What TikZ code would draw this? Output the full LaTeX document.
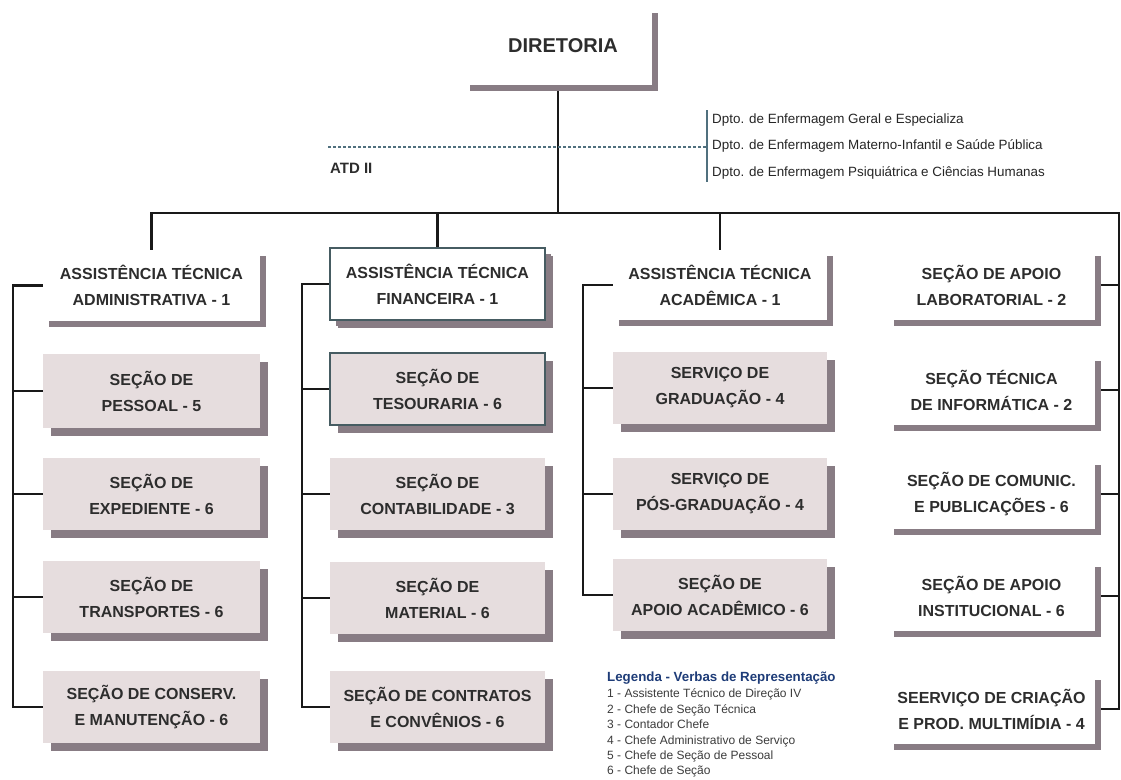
\documentclass[tikz,border=0pt]{standalone}
\usepackage{fontspec}
\setmainfont{Liberation Sans}
\usetikzlibrary{shadows,backgrounds}
\definecolor{shcol}{RGB}{136,124,132}
\definecolor{gfill}{RGB}{230,221,222}
\definecolor{txtc}{RGB}{45,45,45}
\definecolor{bordc}{RGB}{70,92,98}
\definecolor{dashc}{RGB}{80,112,126}
\definecolor{legblue}{RGB}{30,60,120}
\definecolor{legtxt}{RGB}{60,60,60}
\tikzset{
  boxtext/.style={font=\fontsize{16}{26}\selectfont\bfseries, text=txtc, align=center, inner sep=0pt},
  wbox/.style={boxtext, rectangle, fill=white,
    drop shadow={shadow xshift=6pt, shadow yshift=-6pt, fill=shcol, opacity=1}},
  gbox/.style={boxtext, rectangle, fill=gfill,
    drop shadow={shadow xshift=8pt, shadow yshift=-8pt, fill=shcol, opacity=1}},
  bordered/.style={draw=bordc, line width=1.5pt},
  c1/.style={minimum width=217pt},
  c2/.style={minimum width=215pt},
  c3/.style={minimum width=214pt},
  c4/.style={minimum width=207pt},
  h/.style={minimum height=#1},
  conn/.style={draw=black!90, line width=2.5pt},
  dptext/.style={font=\fontsize{13.4}{15}\selectfont, text=black!85, anchor=base west, inner sep=0pt},
  legitem/.style={font=\fontsize{12}{14}\selectfont, text=legtxt, anchor=base west, inner sep=0pt},
}
\begin{document}
\begin{tikzpicture}[x=1pt,y=-1pt]
\useasboundingbox (0,0) rectangle (1121,779);

% top
\node[wbox, minimum width=188pt, minimum height=78pt, font=\fontsize{20}{24}\selectfont\bfseries] (dir) at (558,46) {\hspace*{10pt}DIRETORIA};

% column 1
\node[wbox, c1, h=71pt] (ata) at (151.5,285.5) {ASSISTÊNCIA TÉCNICA\\ADMINISTRATIVA - 1};
\node[gbox, c1, h=74pt] (pes) at (151.5,391) {SEÇÃO DE\\PESSOAL - 5};
\node[gbox, c1, h=72pt] (exp) at (151.5,494) {SEÇÃO DE\\EXPEDIENTE - 6};
\node[gbox, c1, h=72pt] (tra) at (151.5,597) {SEÇÃO DE\\TRANSPORTES - 6};
\node[gbox, c1, h=72pt] (con) at (151.5,707) {SEÇÃO DE CONSERV.\\E MANUTENÇÃO - 6};

% column 2
\node[wbox, bordered, c2, h=72pt, drop shadow={shadow xshift=8pt, shadow yshift=-8pt, fill=shcol, opacity=1}] (atf) at (437.5,284) {ASSISTÊNCIA TÉCNICA\\FINANCEIRA - 1};
\node[gbox, bordered, c2, h=72pt] (tes) at (437.5,389) {SEÇÃO DE\\TESOURARIA - 6};
\node[gbox, c2, h=72pt] (cnt) at (437.5,494) {SEÇÃO DE\\CONTABILIDADE - 3};
\node[gbox, c2, h=72pt] (mat) at (437.5,598) {SEÇÃO DE\\MATERIAL - 6};
\node[gbox, c2, h=72pt] (ctr) at (437.5,707) {SEÇÃO DE CONTRATOS\\E CONVÊNIOS - 6};

% column 3
\node[wbox, c3, h=70pt] (atc) at (720,285) {ASSISTÊNCIA TÉCNICA\\ACADÊMICA - 1};
\node[gbox, c3, h=72pt] (gra) at (720,388) {SERVIÇO DE\\GRADUAÇÃO - 4};
\node[gbox, c3, h=72pt] (pos) at (720,494) {SERVIÇO DE\\PÓS-GRADUAÇÃO - 4};
\node[gbox, c3, h=72pt] (apa) at (720,595) {SEÇÃO DE\\APOIO ACADÊMICO - 6};

% column 4
\node[wbox, c4, h=70pt] (lab) at (991.5,285) {SEÇÃO DE APOIO\\LABORATORIAL - 2};
\node[wbox, c4, h=70pt] (inf) at (991.5,390) {SEÇÃO TÉCNICA\\DE INFORMÁTICA - 2};
\node[wbox, c4, h=70pt] (com) at (991.5,494) {SEÇÃO DE COMUNIC.\\E PUBLICAÇÕES - 6};
\node[wbox, c4, h=70pt] (ins) at (991.5,596) {SEÇÃO DE APOIO\\INSTITUCIONAL - 6};
\node[wbox, c4, h=70pt] (cri) at (991.5,709) {SEERVIÇO DE CRIAÇÃO\\E PROD. MULTIMÍDIA - 4};

% ATD and departments
\node[font=\fontsize{15}{18}\selectfont\bfseries, text=txtc, anchor=base west, inner sep=0pt] (atd) at (330,173.5) {ATD II};
\node[dptext] (d1) at (712,123) {Dpto. de Enfermagem Geral e Especializa};
\node[dptext] (d2) at (712,149) {Dpto. de Enfermagem Materno-Infantil e Saúde Pública};
\node[dptext] (d3) at (712,176) {Dpto. de Enfermagem Psiquiátrica e Ciências Humanas};
\coordinate (bt) at (707,110);
\coordinate (bb) at (707,182);
\coordinate (dl) at (328,147);

% legend
\node[font=\fontsize{13.3}{15}\selectfont\bfseries, text=legblue, anchor=base west, inner sep=0pt] (leg) at (607,681) {Legenda - Verbas de Representação};
\node[legitem] (l1) at (607,697) {1 - Assistente Técnico de Direção IV};
\node[legitem] (l2) at (607,713) {2 - Chefe de Seção Técnica};
\node[legitem] (l3) at (607,728) {3 - Contador Chefe};
\node[legitem] (l4) at (607,744) {4 - Chefe Administrativo de Serviço};
\node[legitem] (l5) at (607,759) {5 - Chefe de Seção de Pessoal};
\node[legitem] (l6) at (607,774) {6 - Chefe de Seção};

% connectors
\coordinate (bR) at (1119,213);
\coordinate (x1) at (13,0);
\coordinate (x2) at (302,0);
\coordinate (x3) at (583,0);
\begin{scope}[on background layer]
\fill[white] (0,0) rectangle (1121,779);
\draw[conn] (dir.south) -- (dir.south |- bR);
\draw[dashc, line width=1.8pt, dash pattern=on 3pt off 2pt] (dl) -- (dl -| bt);
\draw[dashc, line width=1.5pt] (bt) -- (bb);
\draw[conn] (ata.north) |- (bR) -- (bR |- cri.east) -- (cri.east);
\draw[conn] (atf.north) -- (atf.north |- bR);
\draw[conn] (atc.north) -- (atc.north |- bR);
\draw[conn] (lab.east) -- (lab.east -| bR);
\draw[conn] (inf.east) -- (inf.east -| bR);
\draw[conn] (com.east) -- (com.east -| bR);
\draw[conn] (ins.east) -- (ins.east -| bR);
% column 1 bracket
\draw[conn] (ata.west) -| (x1 |- con.west) -- (con.west);
\draw[conn] (pes.west) -- (pes.west -| x1);
\draw[conn] (exp.west) -- (exp.west -| x1);
\draw[conn] (tra.west) -- (tra.west -| x1);
% column 2 bracket
\draw[conn] (atf.west) -| (x2 |- ctr.west) -- (ctr.west);
\draw[conn] (tes.west) -- (tes.west -| x2);
\draw[conn] (cnt.west) -- (cnt.west -| x2);
\draw[conn] (mat.west) -- (mat.west -| x2);
% column 3 bracket
\draw[conn] (atc.west) -| (x3 |- apa.west) -- (apa.west);
\draw[conn] (gra.west) -- (gra.west -| x3);
\draw[conn] (pos.west) -- (pos.west -| x3);
\end{scope}
\end{tikzpicture}
\end{document}
